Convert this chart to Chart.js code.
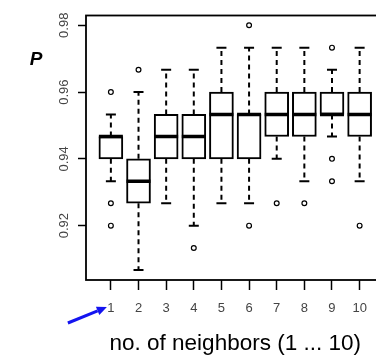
<!DOCTYPE html>
<html><head><meta charset="utf-8">
<script src="https://cdn.jsdelivr.net/npm/chart.js@4/dist/chart.umd.min.js"></script>
<style>
html,body{margin:0;padding:0;background:#fff;overflow:hidden;width:376px;height:357px;}
#wrap{position:absolute;left:0;top:0;width:400px;height:357px;}
</style></head><body>
<div id="wrap"><canvas id="c" width="400" height="357"></canvas></div>
<script>
// ---- data ----
const categories   = [1, 2, 3, 4, 5, 6, 7, 8, 9, 10];
const lowerWhisker = [0.9333, 0.9067, 0.9267, 0.92,   0.9267, 0.9267, 0.94,   0.9333, 0.9467, 0.9333];
const q1           = [0.94,   0.9267, 0.94,   0.94,   0.94,   0.94,   0.9467, 0.9467, 0.9533, 0.9467];
const median       = [0.9467, 0.9333, 0.9467, 0.9467, 0.9533, 0.9533, 0.9533, 0.9533, 0.9533, 0.9533];
const q3           = [0.9467, 0.94,   0.9533, 0.9533, 0.96,   0.9533, 0.96,   0.96,   0.96,   0.96];
const upperWhisker = [0.9533, 0.96,   0.9667, 0.9667, 0.9733, 0.9733, 0.9733, 0.9733, 0.9667, 0.9733];
const outliers     = [[0.96, 0.9267, 0.92], [0.9667], [], [0.9133], [], [0.98, 0.92], [0.9267], [0.9267], [0.9733, 0.94, 0.9333], [0.92]];
const xTickLabels  = ['1', '2', '3', '4', '5', '6', '7', '8', '9', '10'];
const yTickValues  = [0.92, 0.94, 0.96, 0.98];
const yTickLabels  = ['0.92', '0.94', '0.96', '0.98'];
const xTitle = 'no. of neighbors (1 ... 10)';
const yTitle = 'P';
const xRange = [0.1, 10.9];
const yRange = [0.90373, 0.98293];

// ---- datasets built from the arrays ----
const boxData = categories.map((c, i) => ({x: c, y: [q1[i], q3[i]]}));
const medData = categories.map((c, i) => ({x: c, y: median[i]}));
const capData = [];
const whiskerData = [];
categories.forEach((c, i) => {
  capData.push({x: c, y: lowerWhisker[i]}, {x: c, y: upperWhisker[i]});
  whiskerData.push({x: c, y: q3[i]}, {x: c, y: upperWhisker[i]}, {x: c, y: null},
                   {x: c, y: q1[i]}, {x: c, y: lowerWhisker[i]}, {x: c, y: null});
});
const outData = [];
categories.forEach((c, i) => outliers[i].forEach(v => outData.push({x: c, y: v})));

const FONT = "'Liberation Sans', Arial, Helvetica, sans-serif";

const decor = {
  id: 'decor',
  afterDatasetsDraw(chart) {
    const {ctx, chartArea: a} = chart;
    ctx.save();
    ctx.strokeStyle = '#000';
    ctx.lineWidth = 1.8;
    ctx.strokeRect(a.left, a.top, a.right - a.left, a.bottom - a.top);
    ctx.restore();
  },
  afterDraw(chart) {
    const {ctx, chartArea: a, scales} = chart;
    ctx.save();
    // y title "P"
    ctx.fillStyle = '#000';
    ctx.font = 'italic bold 19px ' + FONT;
    ctx.textAlign = 'center';
    ctx.textBaseline = 'middle';
    ctx.fillText(yTitle, a.left - 50, a.top + 44);
    // blue arrow pointing at the first category label
    const tx = scales.x.getPixelForValue(categories[0]) - 4;
    const ty = a.bottom + 27;
    const sx = tx - 39, sy = ty + 16;
    const ang = Math.atan2(ty - sy, tx - sx);
    const hl = 10, hw = 4.5;
    const bx = tx - Math.cos(ang) * hl, by = ty - Math.sin(ang) * hl;
    ctx.strokeStyle = 'rgb(20,20,240)';
    ctx.fillStyle = 'rgb(20,20,240)';
    ctx.lineWidth = 3;
    ctx.beginPath(); ctx.moveTo(sx, sy); ctx.lineTo(bx, by); ctx.stroke();
    ctx.beginPath();
    ctx.moveTo(tx, ty);
    ctx.lineTo(bx - Math.sin(ang) * hw, by + Math.cos(ang) * hw);
    ctx.lineTo(bx + Math.sin(ang) * hw, by - Math.cos(ang) * hw);
    ctx.closePath(); ctx.fill();
    ctx.restore();
  }
};

new Chart(document.getElementById('c'), {
  type: 'bar',
  data: {
    datasets: [
      {type: 'line', data: whiskerData, borderColor: '#000', borderWidth: 2, borderDash: [5, 4],
       pointRadius: 0, spanGaps: false, fill: false, order: 5},
      {type: 'bar', data: boxData, backgroundColor: '#fff', borderColor: '#000', borderWidth: 2,
       borderSkipped: false, barThickness: 24, order: 4},
      {type: 'scatter', data: medData, pointStyle: 'line', pointRadius: 12, pointBorderWidth: 3.5,
       pointBorderColor: '#000', order: 3},
      {type: 'scatter', data: capData, pointStyle: 'line', pointRadius: 5, pointBorderWidth: 2,
       pointBorderColor: '#000', order: 2},
      {type: 'scatter', data: outData, pointStyle: 'circle', pointRadius: 2.4, pointBorderWidth: 1.2,
       pointBorderColor: '#000', pointBackgroundColor: '#fff', order: 1}
    ]
  },
  options: {
    responsive: false,
    animation: false,
    events: [],
    layout: {padding: {left: 36, right: 6, top: 13, bottom: 0}},
    plugins: {legend: {display: false}, tooltip: {enabled: false}},
    scales: {
      x: {
        type: 'linear', min: xRange[0], max: xRange[1], offset: false,
        afterBuildTicks: s => { s.ticks = categories.map(v => ({value: v})); },
        afterFit: s => { s.height = 77; },
        grid: {display: true, offset: false, drawOnChartArea: false, drawTicks: true, tickLength: 10,
               tickColor: '#000', tickWidth: 1.5},
        border: {display: false},
        ticks: {autoSkip: false, maxRotation: 0, minRotation: 0, padding: 11, color: '#444',
                font: {family: FONT, size: 13}, callback: (v, i) => xTickLabels[i]},
        title: {display: true, text: xTitle, color: '#000', font: {family: FONT, size: 22.5},
                padding: {top: 0, bottom: 0}}
      },
      y: {
        type: 'linear', min: yRange[0], max: yRange[1],
        afterBuildTicks: s => { s.ticks = yTickValues.map(v => ({value: v})); },
        afterFit: s => { s.width = 50; },
        grid: {display: true, drawOnChartArea: false, drawTicks: true, tickLength: 8,
               tickColor: '#000', tickWidth: 1.5},
        border: {display: false},
        ticks: {minRotation: 90, maxRotation: 90, crossAlign: 'center', padding: 1, color: '#444',
                font: {family: FONT, size: 13}, callback: (v, i) => yTickLabels[i]}
      }
    }
  },
  plugins: [decor]
});
</script>
</body></html>
